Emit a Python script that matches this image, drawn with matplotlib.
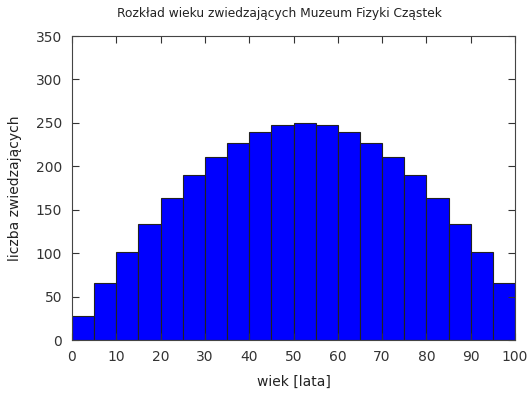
import matplotlib
matplotlib.use("Agg")
import matplotlib.pyplot as plt
import numpy as np

# przedziały wieku i liczba zwiedzających
bin_edges = np.arange(0, 105, 5)
counts = [28, 66, 101, 134, 163, 190, 211, 227, 239, 247,
          250, 247, 239, 227, 211, 190, 163, 134, 101, 66]
x_ticks = [0, 10, 20, 30, 40, 50, 60, 70, 80, 90, 100]
y_ticks = [0, 50, 100, 150, 200, 250, 300, 350]

fig = plt.figure(figsize=(5.31, 4.03), dpi=100)
ax = fig.add_axes([72 / 531, 1 - 340 / 403, 443 / 531, 304 / 403])

ax.bar(bin_edges[:-1], counts, width=5, align='edge',
       color='#0000ff', edgecolor='#222222', linewidth=0.8)

ax.set_xlim(0, 100)
ax.set_ylim(0, 350)
ax.set_xticks(x_ticks)
ax.set_yticks(y_ticks)
ax.tick_params(direction='in', top=True, right=True, length=5,
               labelsize=10, colors='#333333', pad=7)
for s in ax.spines.values():
    s.set_color('#444444')
    s.set_linewidth(0.8)

ax.set_xlabel('wiek [lata]', fontsize=10, color='#222222', labelpad=8)
ax.set_ylabel('liczba zwiedzających', fontsize=10, color='#222222', labelpad=10)
fig.text(0.527, 1 - 13 / 403, 'Rozkład wieku zwiedzających Muzeum Fizyki Cząstek',
         ha='center', va='center', fontsize=8.8, color='#222222')

fig.savefig('out.png', dpi=100)
